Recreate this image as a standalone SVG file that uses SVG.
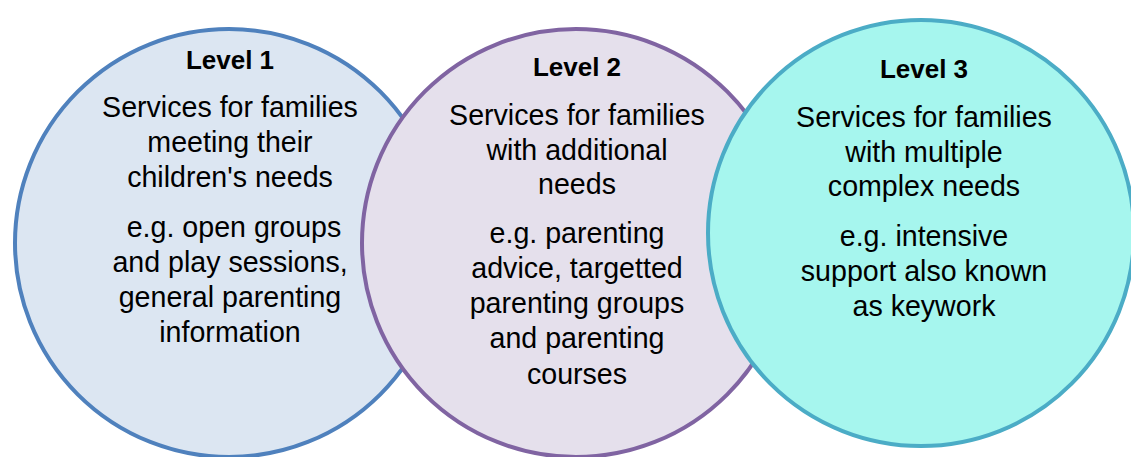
<svg xmlns="http://www.w3.org/2000/svg" width="1131" height="457" viewBox="0 0 1131 457">
<style>
.c{stroke-width:4}
.t{font-family:"Liberation Sans",Arial,sans-serif;font-size:28.6px;fill:#000;text-anchor:middle}
.h{font-family:"Liberation Sans",Arial,sans-serif;font-size:26px;font-weight:bold;fill:#000;text-anchor:middle}
</style>
<rect width="1131" height="457" fill="#ffffff"/>
<g id="level1">
<circle class="c" cx="229" cy="243" r="214" fill="#dce6f2" stroke="#4f81bd"/>
<text class="h" x="230" y="69">Level 1</text>
<text class="t" x="230" y="117">Services for families</text>
<text class="t" x="230" y="152">meeting their</text>
<text class="t" x="230" y="187">children's needs</text>
<text class="t" x="234" y="237">e.g. open groups</text>
<text class="t" x="230" y="272">and play sessions,</text>
<text class="t" x="230" y="307">general parenting</text>
<text class="t" x="230" y="342">information</text>
</g>
<g id="level2">
<circle class="c" cx="576" cy="243" r="214" fill="#e5e0ec" stroke="#8064a2"/>
<text class="h" x="577" y="76">Level 2</text>
<text class="t" x="577" y="125">Services for families</text>
<text class="t" x="577" y="160">with additional</text>
<text class="t" x="577" y="194">needs</text>
<text class="t" x="577" y="243">e.g. parenting</text>
<text class="t" x="577" y="278">advice, targetted</text>
<text class="t" x="577" y="313">parenting groups</text>
<text class="t" x="577" y="348">and parenting</text>
<text class="t" x="577" y="384">courses</text>
</g>
<g id="level3">
<circle class="c" cx="921" cy="233" r="213" fill="#a6f6ee" stroke="#4bacc6"/>
<text class="h" x="924" y="78">Level 3</text>
<text class="t" x="924" y="127">Services for families</text>
<text class="t" x="924" y="162">with multiple</text>
<text class="t" x="924" y="196">complex needs</text>
<text class="t" x="924" y="246">e.g. intensive</text>
<text class="t" x="924" y="281">support also known</text>
<text class="t" x="924" y="316">as keywork</text>
</g>
<g id="connectors"></g>
</svg>
